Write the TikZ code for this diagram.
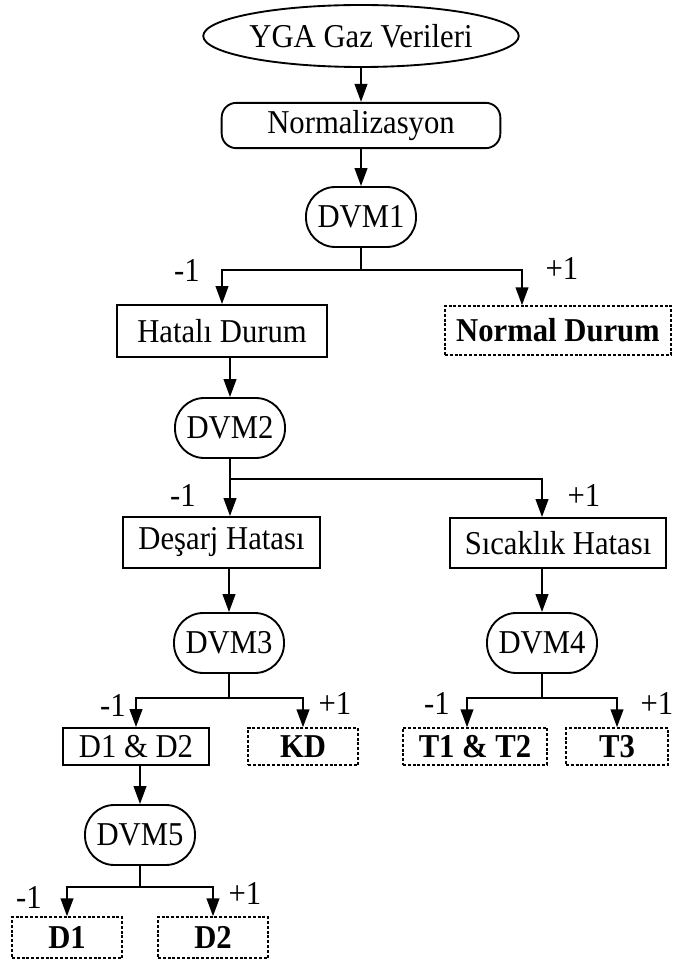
\documentclass[tikz,border=0pt]{standalone}
\usepackage{fontspec}
\setmainfont{Liberation Serif}[FakeStretch=0.92]
\usetikzlibrary{arrows.meta,shapes.geometric}
\begin{document}
\begin{tikzpicture}[x=0.75pt,y=-0.75pt,
  every node/.style={font=\fontsize{25}{29}\selectfont},
  base/.style={draw,line width=1.4pt,inner sep=0pt,align=center},
  startnode/.style={base,ellipse,minimum width=231pt,minimum height=46.5pt},
  procbox/.style={base,rectangle,rounded corners=11pt},
  svmnode/.style={base,rectangle,rounded corners=22pt,minimum width=82.5pt,minimum height=45pt},
  faultbox/.style={base,rectangle},
  leafbox/.style={draw,line width=1.1pt,dash pattern=on 2.2pt off 1.4pt,inner sep=0pt,
                  font=\fontsize{25}{29}\selectfont\bfseries},
  lbl/.style={inner sep=0pt},
  link/.style={line width=1.5pt},
  arr/.style={link,-{Triangle[length=13.5pt,width=9.5pt]}}]
\useasboundingbox (0,0) rectangle (674,962);

% top chain
\node[startnode] (yga) at (361,36) {YGA Gaz Verileri};
\node[procbox,minimum width=209pt,minimum height=34pt] (norm) at (361,125.5) {Normalizasyon};
\node[svmnode] (dvm1) at (361,217) {DVM1};

% first decision
\node[faultbox,minimum width=157.5pt,minimum height=39pt] (hat) at (222,331) {Hatalı Durum};
\node[leafbox,minimum width=169.5pt,minimum height=36.75pt] (normal) at (558,330.5) {Normal Durum};
\coordinate (b1) at (361,270);

% second decision
\node[svmnode] (dvm2) at (230,428) {DVM2};
\node[faultbox,minimum width=147.75pt,minimum height=38.25pt] (des) at (221.5,542.5) {Deşarj Hatası};
\node[faultbox,minimum width=162pt,minimum height=37.5pt] (sic) at (558,543) {Sıcaklık Hatası};
\coordinate (b2) at (230,479);

% third and fourth decisions
\node[svmnode] (dvm3) at (229,643) {DVM3};
\node[svmnode] (dvm4) at (542,643) {DVM4};
\coordinate (b3) at (229,698);
\coordinate (b4) at (542,698);
\node[faultbox,minimum width=109.5pt,minimum height=27.75pt] (d12) at (136,746.5) {D1 \& D2};
\node[leafbox,minimum width=82.5pt,minimum height=27.75pt] (kd) at (303,746.5) {KD};
\node[leafbox,minimum width=108pt,minimum height=27.75pt] (t12) at (475,746.5) {T1 \& T2};
\node[leafbox,minimum width=76.5pt,minimum height=27.75pt] (t3) at (617,746.5) {T3};

% fifth decision
\node[svmnode] (dvm5) at (140,835) {DVM5};
\coordinate (b5) at (140,887);
\node[leafbox,minimum width=82.5pt,minimum height=30.75pt] (d1) at (67,937.5) {D1};
\node[leafbox,minimum width=82.5pt,minimum height=30.75pt] (d2) at (213,937.5) {D2};

% branch labels
\node[lbl] (l1m) at (187,270) {-1};
\node[lbl] (l1p) at (562,268) {+1};
\node[lbl] (l2m) at (183,495) {-1};
\node[lbl] (l2p) at (584,495) {+1};
\node[lbl] (l3m) at (113,705) {-1};
\node[lbl] (l3p) at (335,703) {+1};
\node[lbl] (l4m) at (437,703) {-1};
\node[lbl] (l4p) at (657,703) {+1};
\node[lbl] (l5m) at (29,897) {-1};
\node[lbl] (l5p) at (245,893) {+1};

% connectors
\draw[arr] (yga.south) -- (norm.north);
\draw[arr] (norm.south) -- (dvm1.north);
\draw[link] (dvm1.south) -- (b1);
\draw[arr] (b1) -| (hat.north);
\draw[arr] (b1) -| ([xshift=-27pt]normal.north);

\draw[arr] (hat.south -| dvm2) -- (dvm2.north);
\draw[arr] (dvm2.south) -- (des.north -| dvm2);
\draw[arr] (b2) -| ([xshift=-12pt]sic.north);

\draw[arr] (des.south -| dvm3) -- (dvm3.north);
\draw[arr] (sic.south -| dvm4) -- (dvm4.north);
\draw[link] (dvm3.south) -- (b3);
\draw[arr] (b3) -| (d12.north);
\draw[arr] (b3) -| (kd.north);
\draw[link] (dvm4.south) -- (b4);
\draw[arr] (b4) -| ([xshift=-6pt]t12.north);
\draw[arr] (b4) -| (t3.north);

\draw[arr] (d12.south -| dvm5) -- (dvm5.north);
\draw[link] (dvm5.south) -- (b5);
\draw[arr] (b5) -| (d1.north);
\draw[arr] (b5) -| (d2.north);
\end{tikzpicture}
\end{document}
